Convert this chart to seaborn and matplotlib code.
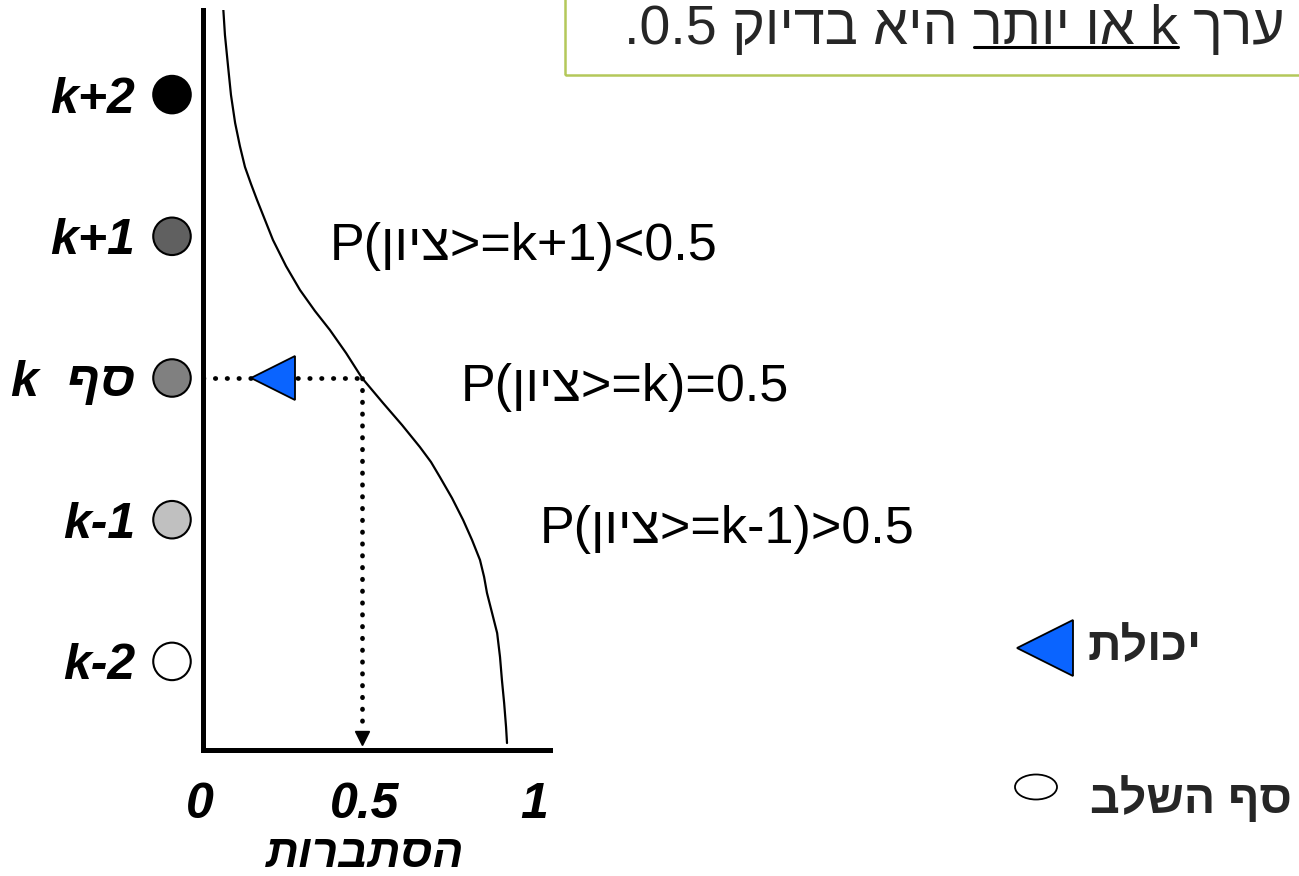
import matplotlib
matplotlib.use('Agg')
import matplotlib.pyplot as plt
import matplotlib.transforms as mtransforms
import seaborn as sns
from matplotlib.patches import Rectangle, Ellipse

# ability levels (k-2 .. k+2) and the grey shade of each level marker
levels = [-2, -1, 0, 1, 2]
level_labels = ['k-2', 'k-1', 'k  ףס', 'k+1', 'k+2']
level_colors = ['#ffffff', '#c0c0c0', '#808080', '#606060', '#000000']

# cumulative probability curve P(score >= level)
curve_prob = [0.063, 0.069, 0.079, 0.088, 0.101, 0.116, 0.132, 0.151, 0.170,
              0.195, 0.220, 0.261, 0.305, 0.352, 0.399, 0.450, 0.500, 0.566,
              0.626, 0.682, 0.717, 0.745, 0.783, 0.818, 0.846, 0.871, 0.884,
              0.893, 0.909, 0.925, 0.934, 0.940, 0.947, 0.953, 0.956]
curve_level = [2.632, 2.421, 2.195, 1.997, 1.800, 1.637, 1.489, 1.369, 1.256,
               1.115, 0.974, 0.790, 0.621, 0.473, 0.339, 0.176, 0.000, -0.176,
               -0.332, -0.487, -0.593, -0.699, -0.847, -1.002, -1.143, -1.284, -1.404,
               -1.517, -1.658, -1.800, -1.969, -2.131, -2.294, -2.463, -2.576]

prob_ticks = [0, 0.5, 1]
prob_tick_labels = ['0', '0.5', '1']
prob_label = 'תורבתסה'

threshold_prob = 0.5
threshold_level = 0
ability_prob = 0.22

cond_labels = ['P(ןויצ>=k+1)<0.5', 'P(ןויצ>=k)=0.5', 'P(ןויצ>=k-1)>0.5']
cond_levels = [1, 0, -1]

title_left = '.0.5 קוידב איה '
title_under = 'רתוי וא k'
title_right = ' ךרע'
legend_ability = 'תלוכי'
legend_threshold = 'בלשה ףס'

sns.set_theme(style='white')
plt.rcParams['font.family'] = ['Liberation Sans', 'DejaVu Sans']

W, H = 1299, 876
fig = plt.figure(figsize=(W / 100, H / 100), dpi=100)
fig.patch.set_facecolor('white')
ax = fig.add_axes([203 / W, 1 - 750 / H, 347 / W, 740 / H])
ax.set_facecolor('white')
ax.set_xlim(0, 347 / 318)
ax.set_ylim((378 - 750) / 141.7, (378 - 10) / 141.7)

# curve
sns.lineplot(x=curve_prob, y=curve_level, sort=False, estimator=None,
             color='black', lw=1.6, ax=ax)

# dotted guide lines
dot = dict(color='black', lw=3.4, ls=(0, (0.1, 2.4)), dash_capstyle='round',
           solid_capstyle='round', clip_on=False, zorder=3)
ax.plot([0, threshold_prob], [threshold_level, threshold_level], **dot)
ax.plot([threshold_prob, threshold_prob], [threshold_level, -2.47], **dot)
ax.plot([threshold_prob], [-2.54], marker='v', ms=10, color='black',
        clip_on=False, zorder=3)

# ability marker
ax.plot([ability_prob], [threshold_level], marker='<', ms=32, mfc='#0a64ff',
        mec='black', mew=1.3, clip_on=False, zorder=5)

# level markers
ax.scatter([-0.0975] * len(levels), levels, s=27 ** 2, c=level_colors,
           edgecolors='black', linewidths=1.5, clip_on=False, zorder=4)

# conditional probability texts
text_x = [0.40, 0.81, 1.06]
for tx, lv, lab in zip(text_x, cond_levels, cond_labels):
    ax.text(tx, lv - 0.07, lab, fontsize=37.5, ha='left', va='center', color='black')

# axes
for s in ['top', 'right']:
    ax.spines[s].set_visible(False)
for s in ['left', 'bottom']:
    ax.spines[s].set_color('black')
    ax.spines[s].set_linewidth(3.6)
ax.set_xticks(prob_ticks, prob_tick_labels)
ax.set_yticks(levels, level_labels)
ax.tick_params(axis='x', length=0, pad=23, labelsize=36)
ax.tick_params(axis='y', length=0, pad=49, labelsize=36)
for t in ax.get_xticklabels() + ax.get_yticklabels():
    t.set_fontweight('bold')
    t.set_fontstyle('italic')
    t.set_color('black')
label_shift = [-3, 3, 13]
for t, dx in zip(ax.get_xticklabels(), label_shift):
    t.set_transform(t.get_transform() + mtransforms.ScaledTranslation(dx / 100, 0, fig.dpi_scale_trans))
ax.set_xlabel(prob_label, fontsize=33, fontweight='bold', fontstyle='italic', color='black')
ax.xaxis.set_label_coords(0.468, -0.112)
ax.xaxis.label.set_va('top')

# legend on the right
ft = fig.transFigure
ax.plot([1045 / W], [1 - 648 / H], marker='<', ms=41, mfc='#0a64ff', mec='black',
        mew=1.3, transform=ft, clip_on=False)
fig.text(1088 / W, 1 - 648 / H, legend_ability, fontsize=33.5, fontweight='bold',
         ha='left', va='center')
fig.patches.append(Ellipse((1036 / W, 1 - 787 / H), 42 / W, 25 / H, transform=ft,
                           facecolor='white', edgecolor='black', lw=1.3))
fig.text(1090 / W, 1 - 800 / H, legend_threshold, fontsize=33.5, fontweight='bold',
         ha='left', va='center')

# top box with the statement
fig.patches.append(Rectangle((565 / W, 1 - 75 / H), 1, 1, transform=ft, fill=False,
                             edgecolor='#b4c85a', lw=1.8))
tfam = ['Liberation Sans Narrow', 'Liberation Sans', 'DejaVu Sans']
xr, yb = 1285 / W, 1 - 44 / H
full = fig.text(xr, yb, title_left + title_under + title_right, fontsize=40,
                family=tfam, ha='right', va='baseline')
fig.canvas.draw()
r = fig.canvas.get_renderer()


def width_of(s):
    t = fig.text(xr, yb, s, fontsize=40, family=tfam, ha='right', va='baseline')
    w = t.get_window_extent(r).width
    t.remove()
    return w


x_end = xr * W - width_of(title_right)
x_start = xr * W - width_of(title_under + title_right)
fig.add_artist(plt.Line2D([x_start / W, x_end / W], [1 - 47 / H, 1 - 47 / H],
                          transform=ft, color='black', lw=2.2))

fig.savefig('out.png', dpi=100, facecolor='white')
